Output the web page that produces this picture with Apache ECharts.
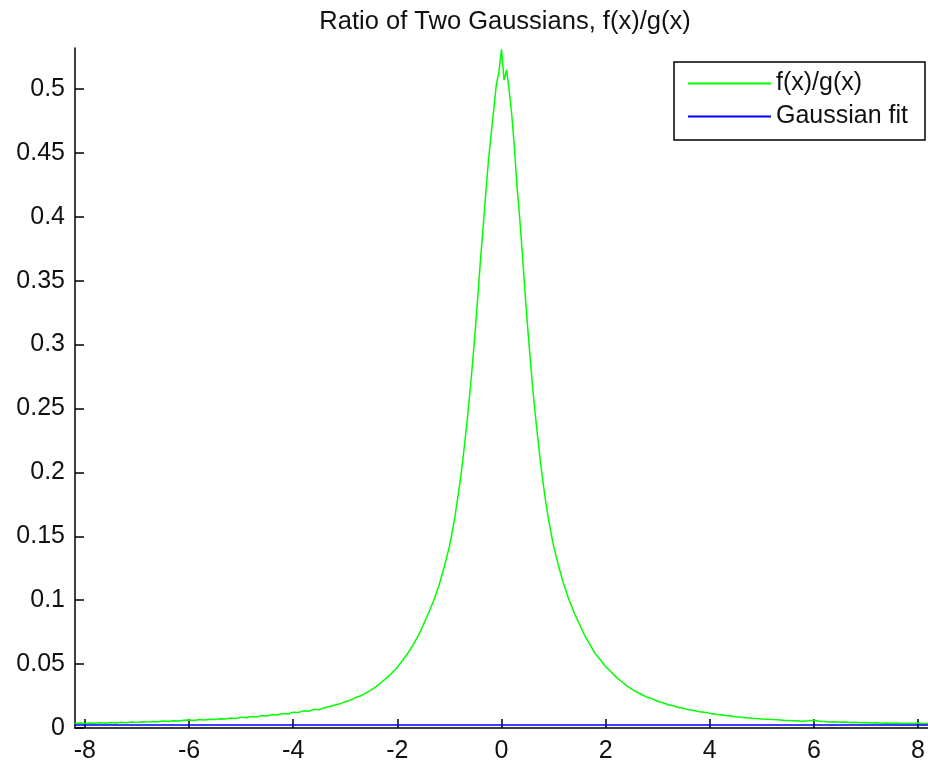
<!DOCTYPE html>
<html>
<head>
<meta charset="utf-8">
<script src="https://cdn.jsdelivr.net/npm/echarts@6/dist/echarts.min.js"></script>
<style>
  html, body { margin: 0; padding: 0; background: #fff; }
  #chart { width: 928px; height: 764px; }
</style>
</head>
<body>
<div id="chart"></div>
<script>
// ratio of two gaussians
var ratioX = [
  -8.2, -8.1, -8.0, -7.9, -7.8, -7.7, -7.6, -7.5, -7.4, -7.3, -7.2, -7.1, -7.0,
  -6.9, -6.8, -6.7, -6.6, -6.5, -6.4, -6.3, -6.2, -6.1, -6.0,
  -5.9, -5.8, -5.7, -5.6, -5.5, -5.4, -5.3, -5.2, -5.1, -5.0,
  -4.9, -4.8, -4.7, -4.6, -4.5, -4.4, -4.3, -4.2, -4.1, -4.0,
  -3.9, -3.8, -3.7, -3.6, -3.5, -3.4, -3.3, -3.2, -3.1, -3.0,
  -2.9, -2.8, -2.7, -2.6, -2.5, -2.4, -2.3, -2.2, -2.1, -2.0,
  -1.9, -1.8, -1.7, -1.6, -1.5, -1.4, -1.3, -1.2, -1.1, -1.0,
  -0.95, -0.9, -0.85, -0.8, -0.75, -0.7, -0.65, -0.6, -0.55, -0.5,
  -0.45, -0.4, -0.35, -0.3, -0.25, -0.2, -0.15, -0.1, -0.05, 0,
  0.05, 0.1, 0.15, 0.2, 0.25, 0.3, 0.35, 0.4, 0.45, 0.5,
  0.55, 0.6, 0.65, 0.7, 0.75, 0.8, 0.85, 0.9, 0.95, 1.0,
  1.1, 1.2, 1.3, 1.4, 1.5, 1.6, 1.7, 1.8, 1.9, 2.0,
  2.1, 2.2, 2.3, 2.4, 2.5, 2.6, 2.7, 2.8, 2.9, 3.0,
  3.1, 3.2, 3.3, 3.4, 3.5, 3.6, 3.7, 3.8, 3.9, 4.0,
  4.1, 4.2, 4.3, 4.4, 4.5, 4.6, 4.7, 4.8, 4.9, 5.0,
  5.1, 5.2, 5.3, 5.4, 5.5, 5.6, 5.7, 5.8, 5.9, 6.0,
  6.1, 6.2, 6.3, 6.4, 6.5, 6.6, 6.7, 6.8, 6.9, 7.0,
  7.1, 7.2, 7.3, 7.4, 7.5, 7.6, 7.7, 7.8, 7.9, 8.0, 8.1, 8.2
];
var ratioY = [
  0.0035, 0.0039, 0.0036, 0.0040, 0.0037, 0.0041, 0.0038, 0.0043, 0.0040, 0.0045, 0.0042, 0.0047, 0.0044,
  0.0049, 0.0046, 0.0051, 0.0049, 0.0054, 0.0051, 0.0057, 0.0055, 0.0060, 0.0063,
  0.0059, 0.0066, 0.0062, 0.0069, 0.0066, 0.0073, 0.0070, 0.0078, 0.0075, 0.0085,
  0.0081, 0.0090, 0.0087, 0.0097, 0.0094, 0.0105, 0.0101, 0.0113, 0.0110, 0.0124,
  0.0121, 0.0134, 0.0131, 0.0146, 0.0143, 0.0159, 0.0168, 0.0180, 0.0189, 0.0206,
  0.0218, 0.0238, 0.0252, 0.0275, 0.0298, 0.0326, 0.0360, 0.0392, 0.0432, 0.0476,
  0.0528, 0.0585, 0.0648, 0.0720, 0.0808, 0.0900, 0.1000, 0.1115, 0.1260, 0.1420,
  0.1525, 0.1635, 0.1775, 0.1910, 0.2070, 0.2250, 0.2440, 0.2650, 0.2880, 0.3130,
  0.3400, 0.3680, 0.3930, 0.4190, 0.4440, 0.4640, 0.4830, 0.5030, 0.5130, 0.5310,
  0.5070, 0.5150, 0.4980, 0.4790, 0.4530, 0.4230, 0.3990, 0.3720, 0.3420, 0.3150,
  0.2900, 0.2660, 0.2450, 0.2260, 0.2075, 0.1915, 0.1770, 0.1640, 0.1530, 0.1425,
  0.1262, 0.1118, 0.1000, 0.0898, 0.0810, 0.0722, 0.0652, 0.0582, 0.0532, 0.0480,
  0.0442, 0.0398, 0.0366, 0.0332, 0.0305, 0.0280, 0.0262, 0.0240, 0.0228, 0.0209,
  0.0198, 0.0182, 0.0174, 0.0160, 0.0153, 0.0142, 0.0137, 0.0127, 0.0123, 0.0116,
  0.0108, 0.0104, 0.0097, 0.0094, 0.0088, 0.0085, 0.0081, 0.0077, 0.0075, 0.0071,
  0.0069, 0.0066, 0.0064, 0.0061, 0.0059, 0.0057, 0.0055, 0.0053, 0.0056, 0.0061,
  0.0052, 0.0050, 0.0047, 0.0049, 0.0045, 0.0047, 0.0043, 0.0045, 0.0041, 0.0043,
  0.0040, 0.0042, 0.0038, 0.0040, 0.0037, 0.0039, 0.0036, 0.0038, 0.0035, 0.0039, 0.0034, 0.0036
];

// the "fit" is flat, just above zero
var fitX = [-8.2, -4, 0, 4, 8.2];
var fitY = [0.0024, 0.0024, 0.0024, 0.0024, 0.0024];

var xTicks = [-8, -6, -4, -2, 0, 2, 4, 6, 8];
var yTicks = [0, 0.05, 0.1, 0.15, 0.2, 0.25, 0.3, 0.35, 0.4, 0.45, 0.5];

var seriesNames = ['f(x)/g(x)', 'Gaussian fit'];

function pairs(xs, ys) {
  var out = [];
  for (var i = 0; i < xs.length; i++) out.push([xs[i], ys[i]]);
  return out;
}

var font = '"Liberation Sans", Arial, Helvetica, sans-serif';
var ink = '#111';

var chart = echarts.init(document.getElementById('chart'), null, { renderer: 'canvas' });
var option = {
  animation: false,
  backgroundColor: '#fff',
  title: {
    text: 'Ratio of Two Gaussians, f(x)/g(x)',
    left: 500,
    top: 4,
    textAlign: 'center',
    textStyle: { fontFamily: font, fontSize: 25.5, fontWeight: 'normal', color: ink }
  },
  legend: {
    data: seriesNames,
    orient: 'vertical',
    left: 674,
    top: 62,
    padding: [9, 17, 11, 14],
    itemGap: 8,
    itemWidth: 83,
    itemHeight: 2,
    icon: 'rect',
    borderColor: '#000',
    borderWidth: 1.5,
    backgroundColor: '#fff',
    textStyle: { fontFamily: font, fontSize: 25, color: ink }
  },
  grid: { left: 75, right: -7, top: 48, bottom: 34, containLabel: false },
  xAxis: {
    type: 'value',
    min: -8.19,
    max: 8.19,
    interval: 2,
    axisLine: { show: true, onZero: false, lineStyle: { color: '#000', width: 1.5 } },
    axisTick: { show: true, inside: true, length: 9, customValues: xTicks, lineStyle: { color: '#000', width: 1.5 } },
    axisLabel: { customValues: xTicks, margin: 11, fontFamily: font, fontSize: 25, color: ink },
    splitLine: { show: false }
  },
  yAxis: {
    type: 'value',
    min: 0,
    max: 0.532,
    interval: 0.05,
    axisLine: { show: true, onZero: false, lineStyle: { color: '#000', width: 1.5 } },
    axisTick: { show: true, inside: true, length: 9, customValues: yTicks, lineStyle: { color: '#000', width: 1.5 } },
    axisLabel: { customValues: yTicks, margin: 10, fontFamily: font, fontSize: 25, color: ink },
    splitLine: { show: false }
  },
  series: [
    {
      name: seriesNames[0],
      type: 'line',
      data: pairs(ratioX, ratioY),
      symbol: 'none',
      color: '#00ff00',
      lineStyle: { color: '#00ff00', width: 1.5 }
    },
    {
      name: seriesNames[1],
      type: 'line',
      data: pairs(fitX, fitY),
      symbol: 'none',
      color: '#0000ff',
      lineStyle: { color: '#0000ff', width: 1.5 }
    }
  ]
};
chart.setOption(option);
</script>
</body>
</html>
